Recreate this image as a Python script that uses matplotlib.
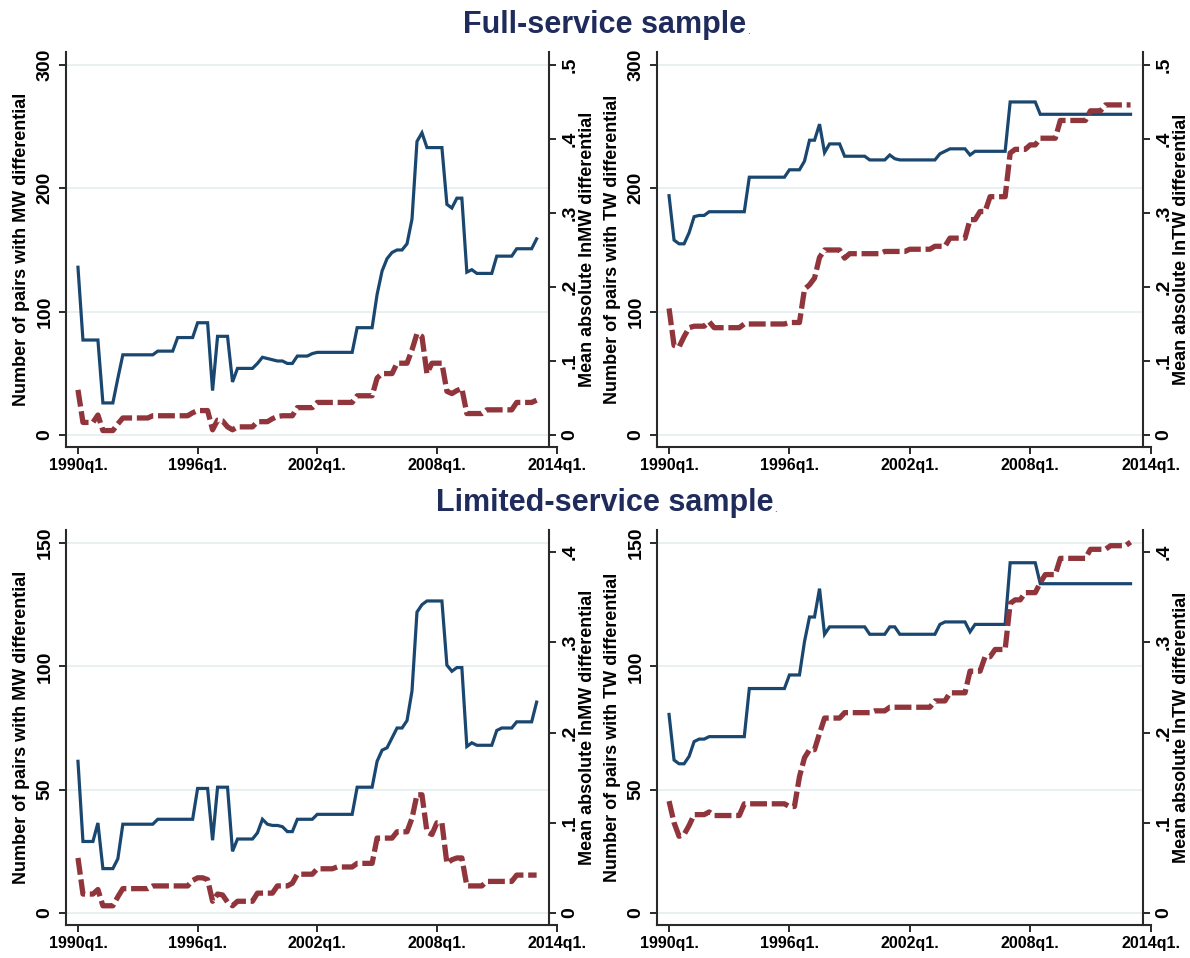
import matplotlib
matplotlib.use("Agg")
import matplotlib.pyplot as plt
import numpy as np

plt.rcParams['font.family'] = ['Liberation Sans', 'DejaVu Sans']
plt.rcParams['font.weight'] = 'bold'
plt.rcParams['axes.labelweight'] = 'bold'

# quarterly dates, 1990q1 .. 2013q1
quarters = 1990 + np.arange(93) / 4.0

xtick_years = [1990, 1996, 2002, 2008]
xtick_labels = ['1990q1.', '1996q1.', '2002q1.', '2008q1.']
last_tick_year = 2014
last_tick_label = '2014q1.'

# Full-service sample: number of pairs with MW differential
mw_full_pairs = [
    136, 77, 77, 77,
    77, 26, 26, 26,
    46, 65, 65, 65,
    65, 65, 65, 65,
    68, 68, 68, 68,
    79, 79, 79, 79,
    91, 91, 91, 36,
    80, 80, 80, 43,
    54, 54, 54, 54,
    58, 63, 62, 61,
    60, 60, 58, 58,
    64, 64, 64, 66,
    67, 67, 67, 67,
    67, 67, 67, 67,
    87, 87, 87, 87,
    114, 133, 143, 148,
    150, 150, 155, 175,
    238, 245, 233, 233,
    233, 233, 187, 184,
    192, 192, 132, 134,
    131, 131, 131, 131,
    145, 145, 145, 145,
    151, 151, 151, 151,
    159,
]
# Full-service sample: mean absolute lnMW differential
mw_full_gap = [
    .061, .017, .017, .017,
    .027, .006, .006, .006,
    .015, .023, .023, .023,
    .023, .023, .023, .026,
    .026, .026, .026, .026,
    .026, .026, .026, .030,
    .033, .033, .033, .007,
    .020, .019, .011, .007,
    .011, .011, .011, .011,
    .018, .018, .018, .022,
    .025, .026, .026, .026,
    .037, .037, .037, .037,
    .044, .044, .044, .044,
    .044, .044, .044, .044,
    .053, .053, .053, .053,
    .077, .083, .083, .083,
    .097, .097, .097, .115,
    .137, .133, .083, .097,
    .097, .097, .059, .056,
    .060, .063, .029, .029,
    .029, .029, .034, .034,
    .034, .034, .034, .034,
    .044, .044, .044, .044,
    .047,
]
# Full-service sample: number of pairs with TW differential
tw_full_pairs = [
    194, 158, 155, 155,
    164, 177, 178, 178,
    181, 181, 181, 181,
    181, 181, 181, 181,
    209, 209, 209, 209,
    209, 209, 209, 209,
    215, 215, 215, 222,
    239, 239, 252, 229,
    236, 236, 236, 226,
    226, 226, 226, 226,
    223, 223, 223, 223,
    227, 224, 223, 223,
    223, 223, 223, 223,
    223, 223, 228, 230,
    232, 232, 232, 232,
    227, 230, 230, 230,
    230, 230, 230, 230,
    270, 270, 270, 270,
    270, 270, 260, 260,
    260, 260, 260, 260,
    260, 260, 260, 260,
    260, 260, 260, 260,
    260, 260, 260, 260,
    260,
]
# Full-service sample: mean absolute lnTW differential
tw_full_gap = [
    .171, .121, .119, .133,
    .145, .147, .147, .147,
    .153, .145, .145, .145,
    .145, .145, .145, .150,
    .150, .150, .150, .150,
    .150, .150, .150, .150,
    .152, .152, .152, .197,
    .203, .212, .240, .250,
    .250, .250, .250, .239,
    .245, .245, .245, .245,
    .245, .245, .245, .248,
    .248, .248, .248, .248,
    .251, .251, .251, .251,
    .251, .255, .255, .255,
    .266, .266, .266, .266,
    .291, .291, .302, .302,
    .322, .322, .322, .322,
    .381, .386, .386, .386,
    .392, .392, .401, .401,
    .401, .401, .425, .425,
    .425, .425, .425, .425,
    .438, .438, .438, .446,
    .446, .446, .446, .446,
    .446,
]

# Limited-service sample: number of pairs with MW differential
mw_lim_pairs = [
    61.5, 29, 29, 29,
    36.5, 18, 18, 18,
    22, 36, 36, 36,
    36, 36, 36, 36,
    38, 38, 38, 38,
    38, 38, 38, 38,
    50.5, 50.5, 50.5, 29.5,
    51, 51, 51, 25,
    30, 30, 30, 30,
    32.5, 38, 36, 35.5,
    35.5, 35, 33, 33,
    38, 38, 38, 38,
    40, 40, 40, 40,
    40, 40, 40, 40,
    51, 51, 51, 51,
    61.5, 66, 67, 71,
    75, 75, 78, 90,
    122, 125, 126.5, 126.5,
    126.5, 126.5, 100.5, 98,
    99.5, 99.5, 67.5, 69,
    68, 68, 68, 68,
    74, 75, 75, 75,
    77.5, 77.5, 77.5, 77.5,
    85.5,
]
# Limited-service sample: mean absolute lnMW differential
mw_lim_gap = [
    .061, .021, .021, .021,
    .026, .008, .008, .008,
    .018, .027, .027, .027,
    .027, .027, .027, .030,
    .030, .030, .030, .030,
    .030, .030, .030, .036,
    .039, .039, .037, .013,
    .021, .020, .012, .008,
    .013, .013, .013, .013,
    .022, .022, .022, .022,
    .030, .030, .030, .033,
    .043, .043, .043, .043,
    .049, .049, .049, .049,
    .051, .051, .051, .051,
    .055, .055, .055, .055,
    .083, .083, .083, .083,
    .090, .090, .090, .105,
    .131, .131, .090, .087,
    .100, .100, .055, .059,
    .061, .061, .030, .030,
    .030, .030, .035, .035,
    .035, .035, .035, .035,
    .042, .042, .042, .042,
    .042,
]
# Limited-service sample: number of pairs with TW differential
tw_lim_pairs = [
    80.5, 62, 60.5, 60.5,
    63.5, 69.5, 70.5, 70.5,
    71.5, 71.5, 71.5, 71.5,
    71.5, 71.5, 71.5, 71.5,
    91, 91, 91, 91,
    91, 91, 91, 91,
    96.5, 96.5, 96.5, 110,
    120, 120, 131.5, 113,
    116, 116, 116, 116,
    116, 116, 116, 116,
    113, 113, 113, 113,
    116, 116, 113, 113,
    113, 113, 113, 113,
    113, 113, 117, 118,
    118, 118, 118, 118,
    114, 117, 117, 117,
    117, 117, 117, 117,
    142, 142, 142, 142,
    142, 142, 133.5, 133.5,
    133.5, 133.5, 133.5, 133.5,
    133.5, 133.5, 133.5, 133.5,
    133.5, 133.5, 133.5, 133.5,
    133.5, 133.5, 133.5, 133.5,
    133.5,
]
# Limited-service sample: mean absolute lnTW differential
tw_lim_gap = [
    .124, .100, .085, .087,
    .097, .109, .109, .109,
    .112, .108, .108, .108,
    .108, .108, .108, .121,
    .121, .121, .121, .121,
    .121, .121, .121, .121,
    .118, .118, .151, .172,
    .181, .181, .199, .216,
    .216, .216, .216, .222,
    .222, .222, .222, .222,
    .222, .224, .224, .224,
    .228, .228, .228, .228,
    .228, .228, .228, .228,
    .228, .235, .235, .235,
    .244, .244, .244, .244,
    .268, .268, .268, .284,
    .284, .292, .292, .292,
    .343, .347, .347, .355,
    .355, .355, .366, .375,
    .375, .375, .393, .393,
    .393, .393, .393, .393,
    .403, .403, .403, .403,
    .407, .407, .407, .407,
    .411,
]

full_left_ticks = [0, 100, 200, 300]
full_right_ticks = [0, .1, .2, .3, .4, .5]
full_right_labels = ['0', '.1', '.2', '.3', '.4', '.5']
lim_left_ticks = [0, 50, 100, 150]
lim_right_ticks = [0, .1, .2, .3, .4]
lim_right_labels = ['0', '.1', '.2', '.3', '.4']

BLUE = '#1a476f'
RED = '#90353b'
NAVY = '#1f2b5b'
AXC = '#2a2a2a'
GRID = '#e6eff1'

XTICK_SIZE = 11.5
YTICK_SIZE = 14
YLABEL_SIZE = 13
TITLE_SIZE = 22

W, H = 1190, 958
fig = plt.figure(figsize=(W / 100, H / 100), dpi=100)
fig.patch.set_facecolor('white')


def draw_panel(px_left, px_top, px_w, px_h, pairs, gap, left_ticks, left_lim,
               right_ticks, right_labels, right_lim, left_title, right_title):
    ax = fig.add_axes([px_left / W, 1 - (px_top + px_h) / H, px_w / W, px_h / H])
    ax.set_xlim(1989.4, 2013.62)
    ax.set_ylim(*left_lim)
    ax.plot(quarters, pairs, color=BLUE, lw=2.3, solid_joinstyle='miter', zorder=3)
    ax.set_yticks(left_ticks)
    ax.set_yticklabels([str(t) for t in left_ticks])
    ax.set_xticks(xtick_years)
    ax.set_xticklabels(xtick_labels)
    ax.grid(axis='y', color=GRID, lw=1.3)
    ax.grid(axis='x', visible=False)
    ax.set_axisbelow(True)
    for s in ['top', 'right']:
        ax.spines[s].set_visible(False)
    for s in ['left', 'bottom']:
        ax.spines[s].set_color(AXC)
        ax.spines[s].set_linewidth(1.5)
    ax.spines['bottom'].set_bounds(1989.4, last_tick_year)
    ax.tick_params(axis='x', direction='out', length=5, width=1.4, color=AXC,
                   labelsize=XTICK_SIZE, pad=3)
    ax.tick_params(axis='y', direction='out', length=5, width=1.4, color=AXC,
                   labelsize=YTICK_SIZE, pad=4, labelrotation=90)
    for lab in ax.get_yticklabels():
        lab.set_va('center')

    # the x axis runs on to a 2014q1 tick just past the right axis
    ax.plot([last_tick_year], [0], marker=3, ms=5, mew=1.4, color=AXC,
            transform=ax.get_xaxis_transform(), clip_on=False)
    ax.annotate(last_tick_label, xy=(last_tick_year, 0),
                xycoords=('data', 'axes fraction'), xytext=(0, -8),
                textcoords='offset points', ha='center', va='top',
                fontsize=XTICK_SIZE, annotation_clip=False)

    ax.set_ylabel(left_title, fontsize=YLABEL_SIZE, fontweight='bold')
    ax.yaxis.set_label_coords(-0.074, 0.5)

    ax2 = ax.twinx()
    ax2.set_ylim(*right_lim)
    ax2.plot(quarters, gap, color=RED, lw=3.8, linestyle=(0, (3.2, 0.9)),
             dash_capstyle='butt', zorder=3)
    ax2.set_yticks(right_ticks)
    ax2.set_yticklabels(right_labels)
    for s in ['top', 'left', 'bottom']:
        ax2.spines[s].set_visible(False)
    ax2.spines['right'].set_color(AXC)
    ax2.spines['right'].set_linewidth(1.5)
    ax2.tick_params(axis='y', direction='out', length=5, width=1.4, color=AXC,
                    labelsize=YTICK_SIZE, pad=4, labelrotation=90)
    for lab in ax2.get_yticklabels():
        lab.set_va('center')
    ax2.set_ylabel(right_title, fontsize=YLABEL_SIZE, fontweight='bold')
    ax2.yaxis.set_label_coords(1.062, 0.5)
    return ax, ax2


# top row: full-service restaurants
draw_panel(66, 52, 483, 395, mw_full_pairs, mw_full_gap,
           full_left_ticks, (-9.73, 310.5), full_right_ticks, full_right_labels,
           (-9.73 / 600, 310.5 / 600),
           'Number of pairs with MW differential', 'Mean absolute lnMW differential')
draw_panel(657, 52, 486, 395, tw_full_pairs, tw_full_gap,
           full_left_ticks, (-9.73, 310.5), full_right_ticks, full_right_labels,
           (-9.73 / 600, 310.5 / 600),
           'Number of pairs with TW differential', 'Mean absolute lnTW differential')

# bottom row: limited-service restaurants
draw_panel(66, 530, 483, 395, mw_lim_pairs, mw_lim_gap,
           lim_left_ticks, (-4.86, 155.27), lim_right_ticks, lim_right_labels,
           (-0.0133, 0.4244),
           'Number of pairs with MW differential', 'Mean absolute lnMW differential')
draw_panel(657, 530, 486, 395, tw_lim_pairs, tw_lim_gap,
           lim_left_ticks, (-4.86, 155.27), lim_right_ticks, lim_right_labels,
           (-0.0133, 0.4244),
           'Number of pairs with TW differential', 'Mean absolute lnTW differential')

titles = [('Full-service sample', 25), ('Limited-service sample', 503)]
fig.canvas.draw()
renderer = fig.canvas.get_renderer()
for text, ypx in titles:
    t = fig.text(604.5 / W, 1 - ypx / H, text, ha='center', va='center',
                 fontsize=TITLE_SIZE, color=NAVY)
    bb = t.get_window_extent(renderer)
    fig.text((bb.x1 + 1) / W, bb.y0 / H + 0.004, '.', fontsize=7,
             fontweight='normal', color=NAVY, ha='left', va='bottom')

fig.savefig('out.png', dpi=100, facecolor='white')
